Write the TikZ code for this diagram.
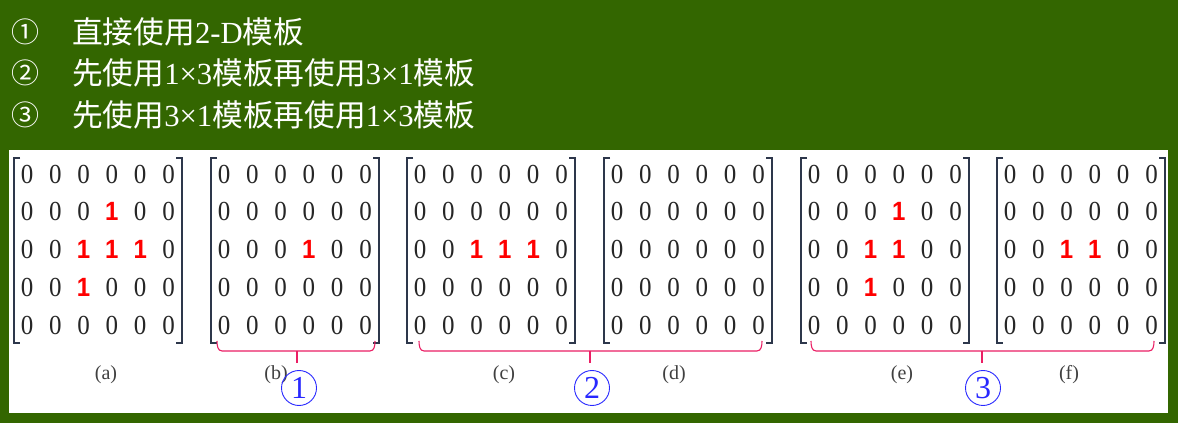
\documentclass[tikz,border=0pt]{standalone}
\usepackage{fontspec}
\setmainfont{Liberation Serif}
\setsansfont{Liberation Sans}
\newfontfamily\cjk{Noto Sans CJK SC}
\definecolor{bggreen}{RGB}{51,102,0}
\definecolor{brk}{RGB}{45,55,75}
\definecolor{brc}{RGB}{235,30,100}
\definecolor{cblue}{RGB}{40,40,255}
\tikzset{
  zero/.style={font=\fontsize{25}{25}\selectfont, text=black!85, inner sep=0pt},
  one/.style={font=\fontsize{24}{24}\selectfont\sffamily\bfseries, text=red, inner sep=0pt},
  bracketline/.style={draw=brk, line width=1.2pt},
  bracepath/.style={draw=brc, line width=1.1pt},
  sublabel/.style={font=\fontsize{20}{20}\selectfont, text=black!75, inner sep=0pt},
  circnum/.style={circle, draw=cblue, line width=0.9pt, minimum size=35pt, inner sep=0pt, text=cblue, font=\fontsize{32}{32}\selectfont},
  headline/.style={anchor=west, text=white, inner sep=0pt, font=\fontsize{30.7}{30.7}\selectfont},
  headnum/.style={text=white, inner sep=0pt, font=\fontsize{28}{28}\selectfont\cjk},
}
\newcommand\drawmat[3]{%
  \foreach \row [count=\r] in {#3} {
    \foreach \v [count=\c] in \row {
      \ifnum\v=1 \def\sty{one}\else\def\sty{zero}\fi
      \node[\sty] (#1-\r-\c) at ({#2+13+28.3*(\c-1)}, {423-174-37.75*(\r-1)}) {\scalebox{1}[1.1]{\v}};
    }
  }
  \draw[bracketline] ({#2+6},{423-158}) -- ({#2},{423-158}) -- ({#2},{423-343}) -- ({#2+6},{423-343});
  \draw[bracketline] ({#2+162},{423-158}) -- ({#2+168},{423-158}) -- ({#2+168},{423-343}) -- ({#2+162},{423-343});
}
\newcommand\drawbrace[3]{%
  \draw[bracepath] (#1,82) to[out=-90,in=180] ({#1+5},72) -- ({#2-5},72) to[out=0,in=-90] (#2,82);
  \draw[bracepath] (#3,72) -- (#3,60);
}
\begin{document}
\begin{tikzpicture}[x=1pt,y=1pt]
\fill[bggreen] (0,0) rectangle (1178,423);
\useasboundingbox (0,0) rectangle (1178,423);
\fill[white] (9,10) rectangle (1168,273);
% header
\node[headnum] (n1) at (26,391) {①};
\node[headnum] (n2) at (26,350) {②};
\node[headnum] (n3) at (26,308) {③};
\node[headline] (h1) at (72,391) {{\cjk 直接使用}2-D{\cjk 模板}};
\node[headline] (h2) at (72,350) {{\cjk 先使用}1×3{\cjk 模板再使用}3×1{\cjk 模板}};
\node[headline] (h3) at (72,308) {{\cjk 先使用}3×1{\cjk 模板再使用}1×3{\cjk 模板}};
% matrices
\drawmat{a}{14}{{0,0,0,0,0,0},{0,0,0,1,0,0},{0,0,1,1,1,0},{0,0,1,0,0,0},{0,0,0,0,0,0}}
\drawmat{b}{211}{{0,0,0,0,0,0},{0,0,0,0,0,0},{0,0,0,1,0,0},{0,0,0,0,0,0},{0,0,0,0,0,0}}
\drawmat{c}{407}{{0,0,0,0,0,0},{0,0,0,0,0,0},{0,0,1,1,1,0},{0,0,0,0,0,0},{0,0,0,0,0,0}}
\drawmat{d}{604}{{0,0,0,0,0,0},{0,0,0,0,0,0},{0,0,0,0,0,0},{0,0,0,0,0,0},{0,0,0,0,0,0}}
\drawmat{e}{801}{{0,0,0,0,0,0},{0,0,0,1,0,0},{0,0,1,1,0,0},{0,0,1,0,0,0},{0,0,0,0,0,0}}
\drawmat{f}{997}{{0,0,0,0,0,0},{0,0,0,0,0,0},{0,0,1,1,0,0},{0,0,0,0,0,0},{0,0,0,0,0,0}}
% labels
\node[sublabel] (la) at (106,48) {(a)};
\node[sublabel] (lb) at (276,48) {(b)};
\node[sublabel] (lc) at (504,48) {(c)};
\node[sublabel] (ld) at (674,48) {(d)};
\node[sublabel] (le) at (902,48) {(e)};
\node[sublabel] (lf) at (1069,48) {(f)};
% braces
\drawbrace{217}{375}{297}
\drawbrace{419}{762}{590}
\drawbrace{811}{1154}{982}
\node[circnum] (c1) at (299,35) {1};
\node[circnum] (c2) at (592,35) {2};
\node[circnum] (c3) at (983,35) {3};
\end{tikzpicture}
\end{document}
